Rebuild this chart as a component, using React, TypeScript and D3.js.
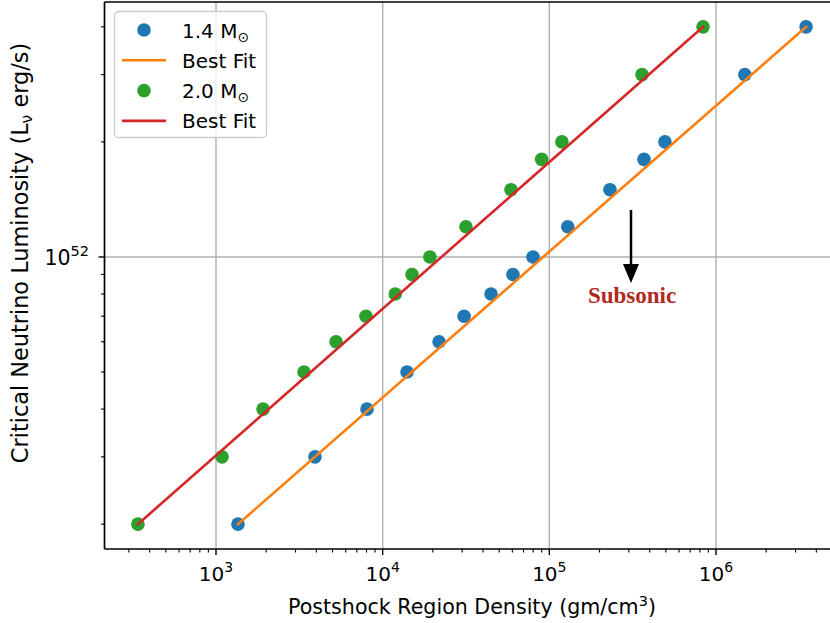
import React from "react";
import * as d3 from "d3";

const lumValues = [2e51, 3e51, 4e51, 5e51, 6e51, 7e51, 8e51, 9e51, 1e52, 1.2e52, 1.5e52, 1.8e52, 2e52, 3e52, 4e52];
const density14 = [1355, 3926, 8054, 1.4e4, 2.18e4, 3.08e4, 4.47e4, 6.05e4, 7.98e4, 1.29e5, 2.31e5, 3.7e5, 4.94e5, 1.49e6, 3.47e6];
const density20 = [340, 1087, 1915, 3375, 5250, 7940, 1.19e4, 1.5e4, 1.92e4, 3.16e4, 5.89e4, 9.0e4, 1.19e5, 3.6e5, 8.36e5];
const xTickExps = [3, 4, 5, 6];
const yTickExps = [52];

const W = 830;
const H = 623;
const plot = { left: 104, top: 2, bottom: 549 };
const font = "DejaVu Sans, sans-serif";
const fs = 20;
const fsSup = 14;

function logPad(vals: number[]) {
  const lo = Math.log10(d3.min(vals)!);
  const hi = Math.log10(d3.max(vals)!);
  const p = (hi - lo) * 0.05;
  return [Math.pow(10, lo - p), Math.pow(10, hi + p)];
}

// straight power law through the end points (in log-log space)
function fitLine(xs: number[], ys: number[]) {
  const i0 = d3.minIndex(xs), i1 = d3.maxIndex(xs);
  return [[xs[i0], ys[i0]], [xs[i1], ys[i1]]];
}

export default function App() {
  const xDom = logPad([...density14, ...density20]);
  const yDom = logPad(lumValues);
  // 10^3 -> 216px, 10^6 -> 716px
  const pxPerDec = (716 - 216) / 3;
  const xLeft = 216 - (3 - Math.log10(xDom[0])) * pxPerDec;
  const xRight = 716 + (Math.log10(xDom[1]) - 6) * pxPerDec;
  const x = d3.scaleLog().domain(xDom).range([xLeft, xRight]);
  const y = d3.scaleLog().domain(yDom).range([plot.bottom, plot.top]);

  const minorX: number[] = [];
  for (let e = 2; e <= 6; e++) for (let m = 2; m <= 9; m++) {
    const v = m * Math.pow(10, e);
    if (v > xDom[0] && v < xDom[1]) minorX.push(v);
  }
  const minorY: number[] = [];
  for (let e = 51; e <= 52; e++) for (let m = 2; m <= 9; m++) {
    const v = m * Math.pow(10, e);
    if (v > yDom[0] && v < yDom[1]) minorY.push(v);
  }

  const line = d3.line<number[]>().x(d => x(d[0])).y(d => y(d[1]));
  const fit14 = fitLine(density14, lumValues);
  const fit20 = fitLine(density20, lumValues);

  const series = [
    { xs: density14, color: "#1f77b4", fit: fit14, fitColor: "#ff7f0e" },
    { xs: density20, color: "#2ca02c", fit: fit20, fitColor: "#d62728" },
  ];

  const legendItems = [
    { kind: "dot", color: "#1f77b4", label: "1.4 M" },
    { kind: "line", color: "#ff7f0e", label: "Best Fit" },
    { kind: "dot", color: "#2ca02c", label: "2.0 M" },
    { kind: "line", color: "#d62728", label: "Best Fit" },
  ];

  const arrowX = 631;

  return (
    <svg width={W} height={H} style={{ position: "absolute", left: 0, top: 0, background: "#fff" }} fontFamily={font}>
      <defs>
        <clipPath id="plotclip">
          <rect x={xLeft} y={plot.top} width={xRight - xLeft} height={plot.bottom - plot.top} />
        </clipPath>
      </defs>
      {/* grid */}
      {xTickExps.map(e => (
        <line key={"gx" + e} x1={x(Math.pow(10, e))} x2={x(Math.pow(10, e))} y1={plot.top} y2={plot.bottom} stroke="#b0b0b0" strokeWidth={1.4} />
      ))}
      {yTickExps.map(e => (
        <line key={"gy" + e} x1={xLeft} x2={xRight} y1={y(Math.pow(10, e))} y2={y(Math.pow(10, e))} stroke="#b0b0b0" strokeWidth={1.4} />
      ))}

      <g clipPath="url(#plotclip)">
        {series.map((s, si) => (
          <g key={si}>
            {s.xs.map((d, i) => (
              <circle key={i} cx={x(d)} cy={y(lumValues[i])} r={6.8} fill={s.color} />
            ))}
            <path d={line(s.fit) || ""} fill="none" stroke={s.fitColor} strokeWidth={2.6} strokeLinecap="square" />
          </g>
        ))}
      </g>

      {/* annotation */}
      <line x1={arrowX} x2={arrowX} y1={210} y2={266} stroke="#000" strokeWidth={2.5} />
      <path d={`M${arrowX - 8},264 L${arrowX + 8},264 L${arrowX},283 Z`} fill="#000" />
      <text x={632} y={303} textAnchor="middle" fontFamily="Liberation Serif, Times New Roman, serif" fontWeight="bold" fontSize={23} fill="#b22a1e">Subsonic</text>

      {/* spines */}
      <line x1={xLeft} x2={xLeft} y1={plot.top} y2={plot.bottom} stroke="#000" strokeWidth={1.7} />
      <line x1={xLeft} x2={xRight} y1={plot.bottom} y2={plot.bottom} stroke="#000" strokeWidth={1.7} />
      <line x1={xLeft} x2={xRight} y1={plot.top} y2={plot.top} stroke="#000" strokeWidth={1.7} />
      <line x1={xRight} x2={xRight} y1={plot.top} y2={plot.bottom} stroke="#000" strokeWidth={1.7} />

      {/* x ticks */}
      {minorX.map((v, i) => (
        <line key={"mx" + i} x1={x(v)} x2={x(v)} y1={plot.bottom} y2={plot.bottom + 3.5} stroke="#000" strokeWidth={1.1} />
      ))}
      {xTickExps.map(e => (
        <g key={"tx" + e}>
          <line x1={x(Math.pow(10, e))} x2={x(Math.pow(10, e))} y1={plot.bottom} y2={plot.bottom + 6} stroke="#000" strokeWidth={1.4} />
          <text x={x(Math.pow(10, e))} y={581} textAnchor="middle" fontSize={fs} fill="#000">
            10<tspan fontSize={fsSup} dy={-9}>{e}</tspan>
          </text>
        </g>
      ))}
      {/* y ticks */}
      {minorY.map((v, i) => (
        <line key={"my" + i} x1={xLeft} x2={xLeft - 3.5} y1={y(v)} y2={y(v)} stroke="#000" strokeWidth={1.1} />
      ))}
      {yTickExps.map(e => (
        <g key={"ty" + e}>
          <line x1={xLeft} x2={xLeft - 6} y1={y(Math.pow(10, e))} y2={y(Math.pow(10, e))} stroke="#000" strokeWidth={1.4} />
          <text x={89} y={y(Math.pow(10, e)) + 8} textAnchor="end" fontSize={20.5} fill="#000">
            10<tspan fontSize={fsSup + 0.5} dy={-9}>{e}</tspan>
          </text>
        </g>
      ))}

      {/* axis labels */}
      <text x={(xLeft + xRight) / 2} y={614} textAnchor="middle" fontSize={20.6} fill="#000">
        Postshock Region Density (gm/cm<tspan fontSize={fsSup + 0.5} dy={-8}>3</tspan><tspan dy={8}>)</tspan>
      </text>
      <text transform={`translate(28,253) rotate(-90)`} textAnchor="middle" fontSize={22.4} fill="#000">
        Critical Neutrino Luminosity (L<tspan fontSize={15.5} dy={4}>ν</tspan><tspan dy={-4}> erg/s)</tspan>
      </text>

      {/* legend */}
      <g>
        <rect x={114.5} y={11.5} width={152} height={126} rx={4} fill="#fff" fillOpacity={0.8} stroke="#cccccc" strokeWidth={1.3} />
        {legendItems.map((it, i) => {
          const cy = 30 + i * 30.3;
          return (
            <g key={i}>
              {it.kind === "dot"
                ? <circle cx={144} cy={cy} r={6.8} fill={it.color} />
                : <line x1={122} x2={166} y1={cy} y2={cy} stroke={it.color} strokeWidth={2.6} />}
              <text x={182} y={cy + 7.5} fontSize={fs} fill="#000">
                {it.label}
                {it.kind === "dot" ? <tspan fontSize={fsSup} dy={4}>⊙</tspan> : null}
              </text>
            </g>
          );
        })}
      </g>
    </svg>
  );
}
